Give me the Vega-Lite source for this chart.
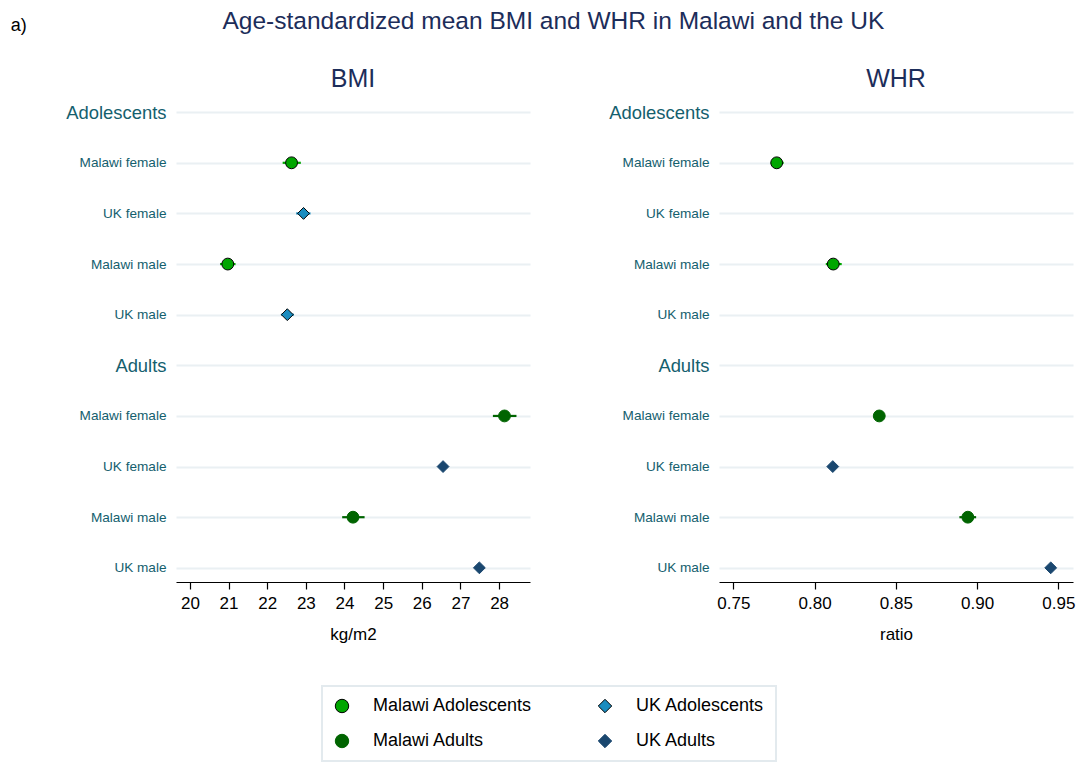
{
  "$schema": "https://vega.github.io/schema/vega-lite/v6.json",
  "background": "white",
  "padding": {"left": 10, "top": 8, "right": 5, "bottom": 5},
  "title": {"text": "a)", "orient": "left", "angle": 0, "anchor": "end", "frame": "bounds", "align": "right", "baseline": "top", "fontSize": 18, "fontWeight": "normal", "color": "black", "offset": 23, "dy": 8},
  "datasets": {
    "pts": [
      {"measure": "BMI", "row": "Adolescents|Malawi female", "group": "Malawi Adolescents", "mean": 22.63, "lo": 22.40, "hi": 22.87},
      {"measure": "BMI", "row": "Adolescents|UK female", "group": "UK Adolescents", "mean": 22.94, "lo": 22.75, "hi": 23.12},
      {"measure": "BMI", "row": "Adolescents|Malawi male", "group": "Malawi Adolescents", "mean": 20.98, "lo": 20.78, "hi": 21.18},
      {"measure": "BMI", "row": "Adolescents|UK male", "group": "UK Adolescents", "mean": 22.52, "lo": 22.36, "hi": 22.69},
      {"measure": "BMI", "row": "Adults|Malawi female", "group": "Malawi Adults", "mean": 28.14, "lo": 27.84, "hi": 28.45},
      {"measure": "BMI", "row": "Adults|UK female", "group": "UK Adults", "mean": 26.55, "lo": 26.51, "hi": 26.59},
      {"measure": "BMI", "row": "Adults|Malawi male", "group": "Malawi Adults", "mean": 24.22, "lo": 23.94, "hi": 24.52},
      {"measure": "BMI", "row": "Adults|UK male", "group": "UK Adults", "mean": 27.49, "lo": 27.44, "hi": 27.54},
      {"measure": "WHR", "row": "Adolescents|Malawi female", "group": "Malawi Adolescents", "mean": 0.7767, "lo": 0.7730, "hi": 0.7810},
      {"measure": "WHR", "row": "Adolescents|Malawi male", "group": "Malawi Adolescents", "mean": 0.8115, "lo": 0.8069, "hi": 0.8167},
      {"measure": "WHR", "row": "Adults|Malawi female", "group": "Malawi Adults", "mean": 0.8398, "lo": 0.8385, "hi": 0.8411},
      {"measure": "WHR", "row": "Adults|UK female", "group": "UK Adults", "mean": 0.8112, "lo": 0.8108, "hi": 0.8116},
      {"measure": "WHR", "row": "Adults|Malawi male", "group": "Malawi Adults", "mean": 0.8943, "lo": 0.8891, "hi": 0.8994},
      {"measure": "WHR", "row": "Adults|UK male", "group": "UK Adults", "mean": 0.9453, "lo": 0.9449, "hi": 0.9457}
    ]
  },
  "vconcat": [
    {
      "title": {"text": "Age-standardized mean BMI and WHR in Malawi and the UK", "fontSize": 24.5, "fontWeight": "normal", "color": "#1c2d5a", "anchor": "middle", "offset": 33, "dx": -17},
      "spacing": 78,
      "hconcat": [
        {
          "width": 354,
          "height": 484,
          "title": {"text": "BMI", "fontSize": 25, "fontWeight": "normal", "color": "#1c2d5a", "frame": "group", "offset": 6},
          "data": {"name": "pts"},
          "transform": [{"filter": "datum.measure == 'BMI'"}],
          "encoding": {
            "y": {
              "field": "row", "type": "ordinal",
              "scale": {"type": "point", "padding": 0.28, "domain": ["Adolescents", "Adolescents|Malawi female", "Adolescents|UK female", "Adolescents|Malawi male", "Adolescents|UK male", "Adults", "Adults|Malawi female", "Adults|UK female", "Adults|Malawi male", "Adults|UK male"]},
              "axis": {
                "title": null, "domain": false, "ticks": false, "grid": true, "gridColor": "#eaf0f3", "gridWidth": 2,
                "labelPadding": 10, "labelColor": "#14606e",
                "labelExpr": "indexof(datum.value, '|') >= 0 ? split(datum.value, '|')[1] : datum.value",
                "labelFontSize": {"condition": {"test": "indexof(datum.value, '|') < 0", "value": 18.4}, "value": 13.6}
              }
            }
          },
          "layer": [
            {
              "mark": {"type": "rule", "strokeWidth": 2.2},
              "encoding": {
                "x": {"field": "lo", "type": "quantitative", "scale": {"domain": [19.64, 28.8], "nice": false, "zero": false},
                  "axis": {"title": "kg/m2", "values": [20, 21, 22, 23, 24, 25, 26, 27, 28], "grid": false}},
                "x2": {"field": "hi"},
                "color": {"field": "group", "type": "nominal", "legend": null,
                  "scale": {"domain": ["Malawi Adults", "UK Adults", "Malawi Adolescents", "UK Adolescents"], "range": ["#006400", "#1a476f", "#00a600", "#1a8cbf"]}}
              }
            },
            {
              "mark": {"type": "point", "filled": true, "opacity": 1, "size": 140, "strokeWidth": 1},
              "encoding": {
                "x": {"field": "mean", "type": "quantitative"},
                "fill": {"field": "group", "type": "nominal", "title": null,
                  "scale": {"domain": ["Malawi Adolescents", "UK Adolescents", "Malawi Adults", "UK Adults"], "range": ["#00a600", "#1a8cbf", "#006400", "#1a476f"]},
                  "legend": {"orient": "none", "legendX": 146, "legendY": 588, "columns": 2, "direction": "horizontal"}},
                "stroke": {"field": "group", "type": "nominal", "title": null,
                  "scale": {"domain": ["Malawi Adolescents", "UK Adolescents", "Malawi Adults", "UK Adults"], "range": ["#000000", "#000000", "#006400", "#1a476f"]},
                  "legend": {"orient": "none", "legendX": 146, "legendY": 588, "columns": 2, "direction": "horizontal"}},
                "shape": {"field": "group", "type": "nominal", "title": null,
                  "scale": {"domain": ["Malawi Adolescents", "UK Adolescents", "Malawi Adults", "UK Adults"], "range": ["circle", "diamond", "circle", "diamond"]},
                  "legend": {"orient": "none", "legendX": 146, "legendY": 588, "columns": 2, "direction": "horizontal"}}
              }
            }
          ]
        },
        {
          "width": 354,
          "height": 484,
          "title": {"text": "WHR", "fontSize": 25, "fontWeight": "normal", "color": "#1c2d5a", "frame": "group", "offset": 6},
          "data": {"name": "pts"},
          "transform": [{"filter": "datum.measure == 'WHR'"}],
          "encoding": {
            "y": {
              "field": "row", "type": "ordinal",
              "scale": {"type": "point", "padding": 0.28, "domain": ["Adolescents", "Adolescents|Malawi female", "Adolescents|UK female", "Adolescents|Malawi male", "Adolescents|UK male", "Adults", "Adults|Malawi female", "Adults|UK female", "Adults|Malawi male", "Adults|UK male"]},
              "axis": {
                "title": null, "domain": false, "ticks": false, "grid": true, "gridColor": "#eaf0f3", "gridWidth": 2,
                "labelPadding": 10, "labelColor": "#14606e",
                "labelExpr": "indexof(datum.value, '|') >= 0 ? split(datum.value, '|')[1] : datum.value",
                "labelFontSize": {"condition": {"test": "indexof(datum.value, '|') < 0", "value": 18.4}, "value": 13.6}
              }
            }
          },
          "layer": [
            {
              "mark": {"type": "rule", "strokeWidth": 2.2},
              "encoding": {
                "x": {"field": "lo", "type": "quantitative", "scale": {"domain": [0.7412, 0.959], "nice": false, "zero": false},
                  "axis": {"title": "ratio", "values": [0.75, 0.8, 0.85, 0.9, 0.95], "format": ".2f", "grid": false}},
                "x2": {"field": "hi"},
                "color": {"field": "group", "type": "nominal", "legend": null}
              }
            },
            {
              "mark": {"type": "point", "filled": true, "opacity": 1, "size": 140, "strokeWidth": 1},
              "encoding": {
                "x": {"field": "mean", "type": "quantitative"},
                "fill": {"field": "group", "type": "nominal", "title": null,
                  "legend": {"orient": "none", "legendX": 146, "legendY": 588, "columns": 2, "direction": "horizontal"}},
                "stroke": {"field": "group", "type": "nominal", "title": null,
                  "legend": {"orient": "none", "legendX": 146, "legendY": 588, "columns": 2, "direction": "horizontal"}},
                "shape": {"field": "group", "type": "nominal", "title": null,
                  "legend": {"orient": "none", "legendX": 146, "legendY": 588, "columns": 2, "direction": "horizontal"}}
              }
            }
          ]
        }
      ]
    }
  ],
  "config": {
    "font": "Liberation Sans",
    "view": {"stroke": null},
    "axisX": {"domainColor": "black", "domainWidth": 1.2, "tickColor": "black", "tickSize": 7, "tickWidth": 1.2, "labelFontSize": 17, "labelColor": "black", "labelPadding": 6, "titleFontSize": 17, "titleFontWeight": "normal", "titleColor": "black", "titlePadding": 15},
    "legend": {"labelFontSize": 18, "labelColor": "black", "symbolSize": 180, "symbolStrokeWidth": 1, "labelOffset": 22, "columnPadding": 63, "rowPadding": 17, "padding": 11, "strokeColor": "#e3eaee", "strokeWidth": 2, "fillColor": "white"}
  }
}
